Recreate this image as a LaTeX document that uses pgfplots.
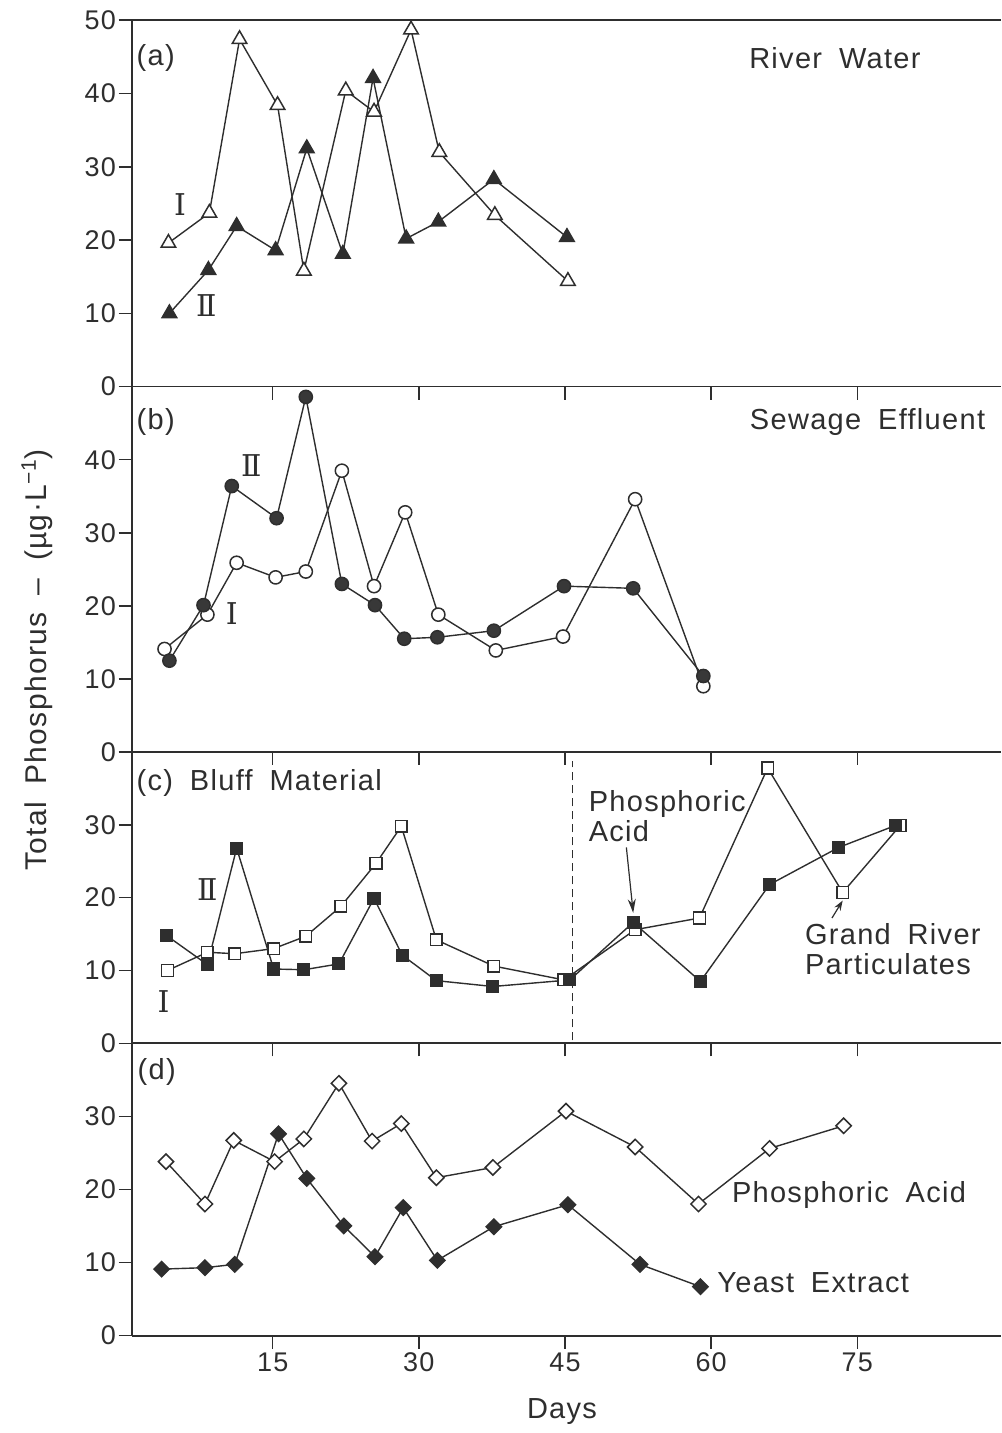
\documentclass[border=0pt]{standalone}
\usepackage{fontspec}
\setmainfont{Liberation Sans}[LetterSpace=4.5,WordSpace=1.8]
\newfontfamily\romfont{DejaVu Serif}
\usepackage{pgfplots}
\pgfplotsset{compat=1.18}
\usetikzlibrary{arrows.meta}
\definecolor{ink}{HTML}{2E2E2E}
\newcommand\lab{\fontsize{14.5}{15}\selectfont}
\newcommand\rn{\romfont\fontsize{15}{16}\selectfont}

\pgfplotsset{
  panel/.style={
    scale only axis, width=434.65pt,
    xmin=0.53, xmax=89.75,
    axis x line*=box, axis y line*=left,
    axis line style={-, ink, line width=0.8pt},
    xtick={15,30,45,60,75}, xtick pos=left, ytick pos=left,
    tick align=outside, major tick length=6.5pt,
    tick style={ink, line width=0.75pt},
    minor tick num=0,
    /pgf/number format/assume math mode=true,
    ticklabel style={font=\fontsize{13.5}{16}\selectfont, text=ink},
    yticklabel style={inner sep=1.2pt},
    xticklabel style={inner sep=2pt},
    clip=false,
  },
  ln/.style={ink, line width=0.7pt},
  otri/.style={ln, mark=triangle*, mark size=4.2pt, mark options={fill=white, draw=ink, line width=0.75pt}},
  ftri/.style={ln, mark=triangle*, mark size=4.2pt, mark options={fill=ink, draw=ink, line width=0.75pt}},
  ocirc/.style={ln, mark=*, mark size=3.3pt, mark options={fill=white, draw=ink, line width=0.75pt}},
  fcirc/.style={ln, mark=*, mark size=3.3pt, mark options={fill=ink!95, draw=ink, line width=0.75pt}},
  osq/.style={ln, mark=square*, mark size=2.9pt, mark options={fill=white, draw=ink, line width=0.75pt}},
  fsq/.style={ln, mark=square*, mark size=2.9pt, mark options={fill=ink, draw=ink, line width=0.75pt}},
  odia/.style={ln, mark=square*, mark size=2.7pt, mark options={rotate=45, fill=white, draw=ink, line width=0.75pt}},
  fdia/.style={ln, mark=square*, mark size=2.7pt, mark options={rotate=45, fill=ink, draw=ink, line width=0.75pt}},
}

\begin{document}
\begin{tikzpicture}
\useasboundingbox (0pt,0pt) rectangle (500.5pt,716.5pt);

% ---------- (a) River Water ----------
\begin{axis}[panel, at={(65.85pt,523.15pt)}, anchor=south west,
  height=183.25pt, ymin=0, ymax=50, ytick={0,10,20,30,40,50}, xticklabels={}]
\addplot[otri] coordinates {(4.3,19.6) (8.5,23.7) (11.6,47.4) (15.5,38.4) (18.2,15.8) (22.5,40.4) (25.4,37.5) (29.2,48.7) (32.1,32.0) (37.8,23.4) (45.3,14.4)};
\addplot[ftri] coordinates {(4.4,10.0) (8.4,15.9) (11.3,21.9) (15.3,18.6) (18.5,32.5) (22.2,18.1) (25.3,42.1) (28.7,20.2) (32.0,22.5) (37.7,28.3) (45.2,20.4)};
\node[anchor=west, font=\lab, text=ink, inner sep=0pt] at (axis cs:1.0,44.8) {(a)};
\node[font=\lab, text=ink] at (axis cs:72.7,44.8) {River Water};
\node[font=\rn, text=ink] at (axis cs:5.5,24.9) {Ⅰ};
\node[font=\rn, text=ink] at (axis cs:8.2,11.0) {Ⅱ};
\end{axis}

% ---------- (b) Sewage Effluent ----------
\begin{axis}[panel, at={(65.85pt,340.5pt)}, anchor=south west,
  height=182.65pt, ymin=0, ymax=50, ytick={0,10,20,30,40}, xticklabels={}]
\addplot[ocirc] coordinates {(3.9,14.1) (8.3,18.8) (11.3,25.9) (15.3,23.9) (18.4,24.7) (22.1,38.5) (25.4,22.7) (28.6,32.8) (32.0,18.8) (37.9,13.9) (44.8,15.8) (52.2,34.6) (59.2,9.0)};
\addplot[fcirc] coordinates {(4.4,12.5) (7.9,20.1) (10.8,36.4) (15.4,32.0) (18.4,48.6) (22.1,23.0) (25.5,20.1) (28.5,15.5) (31.9,15.7) (37.7,16.6) (44.9,22.7) (52.0,22.4) (59.2,10.4)};
\node[anchor=west, font=\lab, text=ink, inner sep=0pt] at (axis cs:1.0,45.2) {(b)};
\node[font=\lab, text=ink] at (axis cs:76.05,45.1) {Sewage Effluent};
\node[font=\rn, text=ink] at (axis cs:12.8,39.2) {Ⅱ};
\node[font=\rn, text=ink] at (axis cs:10.8,18.9) {Ⅰ};
\end{axis}

% ---------- (c) Bluff Material ----------
\begin{axis}[panel, at={(65.85pt,194.85pt)}, anchor=south west,
  height=145.65pt, ymin=0, ymax=40, ytick={0,10,20,30}, xticklabels={}]
\addplot[ink, line width=0.6pt, dash pattern=on 4pt off 2.5pt] coordinates {(45.8,0.4) (45.8,38.8)};
\addplot[osq] coordinates {(4.2,10.0) (8.3,12.5) (11.1,12.3) (15.1,13.0) (18.4,14.7) (22.0,18.8) (25.6,24.7) (28.2,29.8) (31.8,14.2) (37.7,10.6) (44.9,8.7) (52.2,15.6) (58.8,17.2) (65.8,37.8) (73.5,20.7) (79.4,29.9)};
\addplot[fsq] coordinates {(4.1,14.8) (8.3,10.8) (11.3,26.8) (15.1,10.2) (18.2,10.1) (21.8,10.9) (25.4,19.9) (28.3,12.1) (31.8,8.6) (37.6,7.8) (45.5,8.7) (52.0,16.6) (58.9,8.5) (66.0,21.8) (73.1,26.9) (78.9,29.9)};
\node[anchor=west, font=\lab, text=ink, inner sep=0pt] at (axis cs:1.0,35.8) {(c) Bluff Material};
\node[font=\rn, text=ink] at (axis cs:8.3,21.1) {Ⅱ};
\node[font=\rn, text=ink] at (axis cs:3.8,5.7) {Ⅰ};
\node[anchor=west, align=left, font=\lab, text=ink, inner sep=0pt] at (axis cs:47.4,31.2) {Phosphoric\\Acid};
\draw[ink, line width=0.6pt, -{Stealth[length=7pt,width=4pt]}] (axis cs:51.3,26.9) -- (axis cs:52.0,17.9);
\node[anchor=west, align=left, font=\lab, text=ink, inner sep=0pt] at (axis cs:69.6,12.95) {Grand River\\Particulates};
\draw[ink, line width=0.6pt, -{Stealth[length=5pt,width=3.5pt]}] (axis cs:72.4,17.2) -- (axis cs:73.5,19.6);
\end{axis}

% ---------- (d) ----------
\begin{axis}[panel, at={(65.85pt,48.65pt)}, anchor=south west,
  height=146.3pt, ymin=0, ymax=40, ytick={0,10,20,30}, xticklabels={15,30,45,60,75}]
\addplot[odia] coordinates {(4.05,23.8) (8.05,18.0) (11.0,26.7) (15.2,23.8) (18.2,26.9) (21.8,34.5) (25.2,26.6) (28.2,29.0) (31.8,21.6) (37.6,23.0) (45.1,30.7) (52.2,25.8) (58.7,18.0) (66.0,25.6) (73.6,28.7)};
\addplot[fdia] coordinates {(3.6,9.1) (8.05,9.3) (11.1,9.75) (15.6,27.6) (18.5,21.5) (22.3,15.0) (25.5,10.8) (28.4,17.5) (31.9,10.3) (37.7,14.9) (45.3,17.9) (52.7,9.75) (58.9,6.7)};
\node[anchor=west, font=\lab, text=ink, inner sep=0pt] at (axis cs:1.1,36.1) {(d)};
\node[anchor=west, font=\lab, text=ink, inner sep=0pt] at (axis cs:62.1,19.2) {Phosphoric Acid};
\node[anchor=west, font=\lab, text=ink, inner sep=0pt] at (axis cs:60.6,7.2) {Yeast Extract};
\end{axis}

\node[font=\lab, text=ink] at (281pt,10.5pt) {Days};
\node[rotate=90, font=\fontsize{15}{17}\selectfont, text=ink] at (18.5pt,386.5pt) {Total Phosphorus – (µg·L\textsuperscript{−1})};
\end{tikzpicture}
\end{document}
